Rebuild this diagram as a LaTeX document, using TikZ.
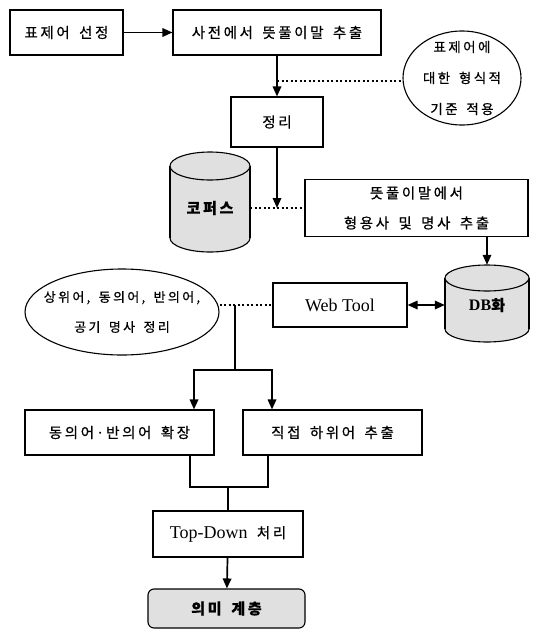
\documentclass[tikz,border=0pt]{standalone}
\usepackage{fontspec}
\setmainfont{Liberation Serif}
\newfontfamily\kr[LetterSpace=18,WordSpace=1.6,FakeBold=0.6]{Noto Sans CJK KR}
\usetikzlibrary{arrows.meta,shapes.geometric}
\newcommand\drawcyl[5]{% cx, top, bottom, rx, ry
  \filldraw[cylfill,cylline] (#1,#3-#5) ellipse [x radius=#4, y radius=#5];
  \fill[cylfill] (#1-#4,#2+#5) rectangle (#1+#4,#3-#5);
  \draw[cylline] (#1-#4,#2+#5) -- (#1-#4,#3-#5) (#1+#4,#2+#5) -- (#1+#4,#3-#5);
  \filldraw[cylfill,cylline] (#1,#2+#5) ellipse [x radius=#4, y radius=#5];
}
\begin{document}
\begin{tikzpicture}[x=1pt,y=-1pt,
  kt/.style={font=\kr\fontsize{14.5}{30}\selectfont},
  lt/.style={font=\rmfamily\fontsize{18}{30}\selectfont},
  box/.style={draw, line width=1.1pt, inner sep=0pt, align=center, kt},
  oval/.style={ellipse, draw, line width=1.1pt, inner xsep=-40pt, inner ysep=-6pt, align=center, kt},
  conn/.style={line width=1.7pt},
  tip/.tip={Triangle[length=10pt,width=8.5pt]},
  arr/.style={conn, -tip},
  darr/.style={conn, tip-tip},
  dot/.style={line width=1.1pt, dash pattern=on 2pt off 2.5pt},
  cylfill/.style={fill=black!12},
  cylline/.style={line width=1.1pt},
  boldk/.style={font=\kr\bfseries\fontsize{15}{20}\selectfont},
]
\useasboundingbox (0,0) rectangle (556,629);

% nodes
\node[box, minimum width=113pt, minimum height=45pt] (b1) at (66.5,32.5) {표제어 선정};
\node[box, minimum width=208pt, minimum height=45pt] (b2) at (277,32.5) {사전에서 뜻풀이말 추출};
\node[oval, font=\kr\fontsize{13.5}{31}\selectfont, minimum width=118pt, minimum height=94pt] (e1) at (462,78) {표제어에\\대한 형식적\\기준 적용};
\node[box, minimum width=92pt, minimum height=50pt] (b3) at (277,122) {정리};

\drawcyl{210}{152}{252}{40}{14}
\node[boldk, minimum width=80pt, minimum height=20pt, inner sep=0pt] (cp) at (210,208) {코퍼스};

\node[box, minimum width=223pt, minimum height=57pt] (b4) at (416.5,208) {뜻풀이말에서\\형용사 및 명사 추출};

\drawcyl{487}{265}{342}{42}{13}
\node[boldk, minimum width=84pt, minimum height=80pt, inner sep=0pt] (db) at (487,305) {{\rmfamily\bfseries\fontsize{16}{20}\selectfont DB}화};

\node[box, lt, minimum width=134pt, minimum height=44pt] (wt) at (340,305) {Web Tool};
\node[oval, font=\kr\fontsize{13}{30}\selectfont, minimum width=194pt, minimum height=86pt] (e2) at (122,312) {상위어, 동의어, 반의어,\\공기 명사 정리};

\node[box, minimum width=189pt, minimum height=45pt] (b5) at (119.5,432.5) {동의어\hspace{2pt}·\hspace{2pt}반의어 확장};
\node[box, minimum width=179pt, minimum height=45pt] (b6) at (332.5,432.5) {직접 하위어 추출};
\node[box, minimum width=150pt, minimum height=46pt] (b7) at (228,534) {{\rmfamily\fontsize{18}{20}\selectfont Top-Down} 처리};
\node[box, boldk, rounded corners=6pt, fill=black!12, minimum width=157pt, minimum height=39pt] (b8) at (226.5,608.5) {의미 계층};

% connectors
\draw[arr] (b1) -- (b2);
\draw[arr] (b2) -- (b3);
\coordinate (j1) at (277,81);
\draw[dot] (j1) -- (j1 -| e1.west);
\coordinate (j2) at (277,208);
\draw[arr] (b3) -- (j2);
\draw[dot] (cp.east) -- (b4.west);
\draw[arr] (db.north |- b4.south) -- (db.north);
\draw[darr] (wt.east) -- (db.west |- wt.east);
\draw[dot] (e2.east |- wt.west) -- (wt.west);
\coordinate (f0) at (235,305);
\coordinate (f1) at (235,370);
\coordinate (fl) at (194,370);
\coordinate (fr) at (272,370);
\draw[conn] (f0) -- (f1);
\draw[arr] (f1) -- (fl) -- (fl |- b5.north);
\draw[arr] (f1) -- (fr) -- (fr |- b6.north);
\coordinate (gl) at (190,487);
\coordinate (gr) at (268,487);
\coordinate (g0) at (228,487);
\draw[conn] (gl |- b5.south) -- (gl) -- (gr) -- (gr |- b6.south);
\draw[conn] (g0) -- (b7.north);
\draw[arr] (b7) -- (b8);
\end{tikzpicture}
\end{document}
